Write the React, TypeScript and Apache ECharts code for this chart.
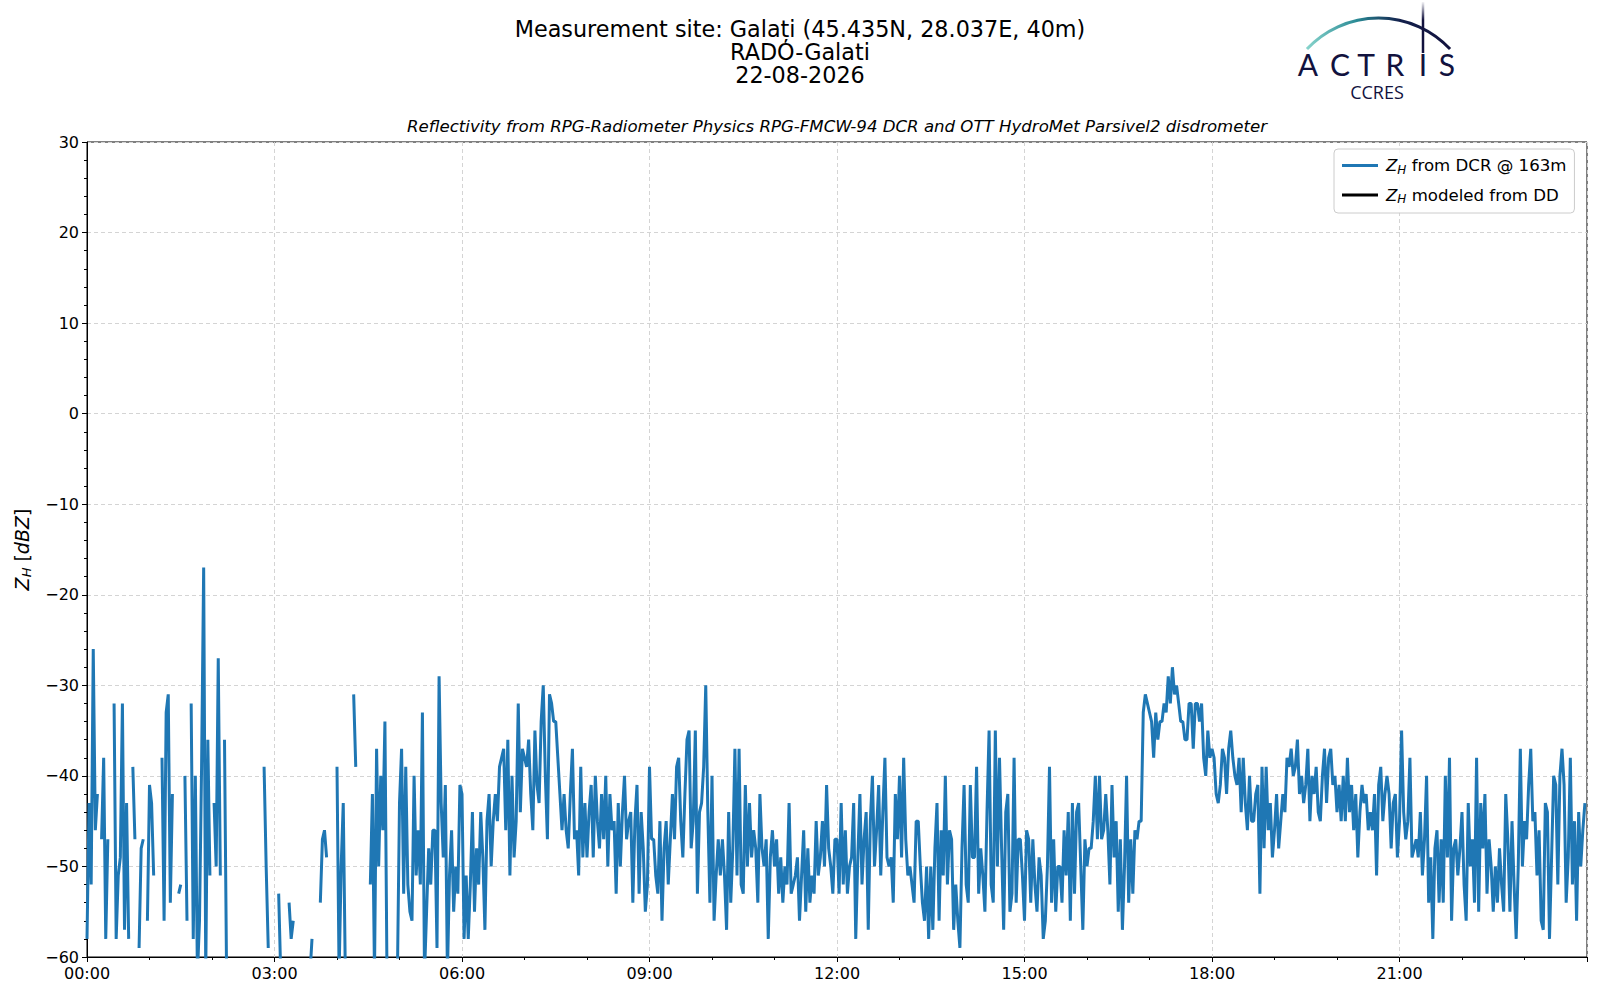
import { useEffect, useRef } from 'react';
import * as echarts from 'echarts';

// Z_H from the cloud radar at 163 m, one value every 2 minutes (dBZ), null = no echo
const STEP_MIN = 2;

const zh00to03 = [
  -58, -43, -52, -26, -46, -42, null, -47, -38, -58, -47, null, null, -32, -58, -51, -49, -32, -57, -43, -58, null, -39, -47, null, -59, -48, -47, null, -56,
  -41, -43, -51, null, null, null, -38, -56, -33, -31, -54, -42, null, null, -53, -52, null, -40, -56, null, -32, -58, -40, -62, -56, -39, -17, -62, -36, -51,
  null, -43, -50, -27, -51, null, -36, -62, null, null, null, null, null, null, null, null, null, null, null, null, null, null, null, null, null, -39, -50, -59, null, null,
];
const zh03to06 = [
  null, null, -53, -62, null, null, null, -54, -58, -56, null, null, null, null, null, null, null, -62, -58, null, null, null, -54, -47, -46, -49, null, null, null, null,
  -39, -62, -50, -43, -62, null, null, null, -31, -39, null, null, null, null, null, null, -52, -42, -62, -37, -50, -40, -46, -34, -62, null, null, null, null, -62,
  -43, -37, -53, -39, -52, -55, -56, -40, -51, -46, -52, -33, -62, -55, -48, -52, -46, -46, -59, -29, -43, -49, -41, -62, -51, -46, -55, -50, -53, -41,
];
const zh06to09 = [
  -42, -58, -51, -58, -52, -44, -55, -48, -52, -44, -49, -57, -45, -42, -50, -45, -42, -45, -39, -38, -37, -46, -36, -51, -40, -49, -45, -32, -44, -37,
  -38, -39, -36, -42, -46, -35, -41, -43, -34, -30, -40, -47, -31, -32, -34, -34, -38, -42, -46, -42, -46, -48, -42, -37, -47, -46, -51, -39, -49, -43,
  -49, -44, -41, -49, -40, -45, -48, -42, -47, -40, -50, -42, -46, -45, -53, -43, -50, -44, -40, -47, -45, -44, -54, -45, -41, -53, -44, -48, -55, -52,
];
const zh09to12 = [
  -39, -47, -47, -51, -53, -45, -56, -48, -45, -52, -47, -42, -47, -39, -38, -45, -49, -42, -36, -35, -48, -45, -35, -53, -44, -43, -39, -30, -44, -54,
  -40, -56, -51, -47, -51, -47, -51, -57, -44, -54, -48, -37, -51, -37, -52, -53, -41, -50, -43, -49, -46, -48, -54, -42, -48, -50, -47, -58, -49, -46,
  -50, -47, -53, -49, -54, -50, -52, -43, -53, -52, -51, -49, -56, -51, -46, -55, -48, -54, -51, -53, -45, -51, -49, -45, -50, -41, -48, -50, -53, -47,
];
const zh12to15 = [
  -47, -53, -43, -52, -46, -53, -50, -49, -43, -58, -49, -42, -52, -47, -44, -57, -45, -40, -50, -46, -41, -51, -44, -38, -49, -50, -49, -54, -42, -47,
  -40, -49, -38, -47, -51, -50, -52, -54, -45, -45, -50, -54, -56, -50, -58, -50, -57, -48, -43, -56, -46, -51, -40, -52, -46, -47, -57, -52, -56, -59,
  -48, -41, -52, -54, -41, -49, -49, -39, -53, -48, -51, -55, -44, -35, -52, -54, -35, -50, -38, -48, -57, -44, -42, -55, -53, -38, -54, -47, -47, -51,
];
const zh15to18 = [
  -56, -46, -47, -54, -47, -52, -55, -49, -51, -58, -56, -50, -39, -54, -47, -55, -50, -50, -54, -46, -51, -44, -56, -43, -53, -44, -43, -50, -57, -47,
  -50, -48, -48, -45, -40, -47, -40, -47, -46, -42, -46, -52, -41, -49, -45, -55, -47, -57, -50, -40, -54, -47, -53, -46, -47, -45, -45, -33, -31, -32,
  -33, -34, -38, -33, -36, -34, -34, -32, -33, -29, -32, -28, -31, -30, -32, -34, -34, -36, -36, -32, -32, -37, -32, -32, -34, -32, -38, -40, -35, -38,
];
const zh18to21 = [
  -37, -38, -42, -43, -41, -37, -38, -42, -37, -35, -38, -40, -41, -38, -44, -38, -43, -46, -40, -45, -45, -42, -41, -53, -39, -48, -39, -46, -43, -49,
  -46, -42, -48, -45, -42, -44, -38, -39, -37, -40, -39, -36, -42, -40, -43, -41, -37, -45, -40, -42, -39, -44, -45, -40, -37, -43, -38, -37, -41, -40,
  -44, -41, -45, -40, -45, -38, -44, -41, -46, -42, -49, -44, -41, -43, -42, -46, -44, -46, -42, -51, -41, -39, -45, -42, -40, -42, -48, -43, -42, -49,
];
const zh21to24 = [
  -45, -35, -44, -47, -45, -38, -49, -48, -47, -49, -44, -51, -47, -40, -54, -49, -58, -48, -46, -54, -47, -54, -40, -49, -38, -56, -48, -47, -51, -48,
  -44, -52, -56, -43, -50, -47, -54, -38, -55, -43, -48, -42, -53, -47, -50, -55, -50, -54, -48, -52, -55, -42, -47, -55, -45, -52, -58, -50, -37, -50,
  -45, -47, -41, -37, -45, -44, -51, -46, -56, -57, -43, -44, -58, -49, -40, -41, -52, -40, -37, -41, -54, -49, -38, -52, -45, -56, -44, -50, -46, -43,
];

// modeled Z_H from the disdrometer: no data that day
const zhDisdrometer: number[] = [];

const zhDcr = [
  ...zh00to03, ...zh03to06, ...zh06to09, ...zh09to12,
  ...zh12to15, ...zh15to18, ...zh18to21, ...zh21to24,
];

const FONT = 'DejaVu Sans, Verdana, sans-serif';
const NAVY = '#12123e';

const pad2 = (n: number) => (n < 10 ? '0' + n : String(n));

export default function App() {
  const chartRef = useRef<HTMLDivElement>(null);

  useEffect(() => {
    if (!chartRef.current) return;
    const chart = echarts.init(chartRef.current, undefined, { renderer: 'svg' });

    const dcrData = zhDcr.map((v, i) => [i * STEP_MIN, v === null ? '-' : v]);

    const legendRich = {
      t: { fontFamily: FONT, fontSize: 16.6, color: '#000' },
      z: { fontFamily: FONT, fontSize: 16.6, fontStyle: 'italic', color: '#000', padding: [0, 0, 0, 3] },
      s: { fontFamily: FONT, fontSize: 12, fontStyle: 'italic', color: '#000', padding: [8, 0, 0, 0] },
    };

    chart.setOption({
      animation: false,
      backgroundColor: '#fff',
      grid: {
        left: 87,
        right: 13,
        top: 142,
        bottom: 43,
        show: true,
        borderColor: '#000',
        borderWidth: 1,
      },
      legend: {
        orient: 'vertical',
        left: 1334,
        top: 149,
        padding: [8, 8, 8, 8],
        itemGap: 11,
        itemWidth: 36,
        itemHeight: 3,
        icon: 'rect',
        backgroundColor: 'rgba(255,255,255,0.85)',
        borderColor: '#cccccc',
        borderWidth: 1,
        borderRadius: 4,
        textStyle: { fontFamily: FONT, fontSize: 16.6, color: '#000', rich: legendRich },
        formatter: (name: string) =>
          name === 'dcr' ? '{z|Z}{s|H}{t| from DCR @ 163m}' : '{z|Z}{s|H}{t| modeled from DD}',
        data: ['dcr', 'dd'],
      },
      xAxis: {
        type: 'value',
        min: 0,
        max: 1440,
        interval: 180,
        axisLine: { onZero: false, lineStyle: { color: '#000', width: 1 } },
        axisTick: { length: 5, lineStyle: { color: '#000' } },
        minorTick: { show: true, splitNumber: 3, length: 3, lineStyle: { color: '#000' } },
        axisLabel: {
          fontFamily: FONT,
          fontSize: 16,
          color: '#000',
          margin: 8,
          formatter: (v: number) => (v >= 1440 ? '' : pad2(Math.floor(v / 60)) + ':' + pad2(v % 60)),
        },
        splitLine: { show: true, lineStyle: { color: '#d4d4d4', type: [4, 3], width: 1 } },
      },
      yAxis: {
        type: 'value',
        min: -60,
        max: 30,
        interval: 10,
        name: '{zi|Z}{sub|H} [{zi|dBZ}]',
        nameLocation: 'middle',
        nameGap: 54,
        nameRotate: 90,
        nameTextStyle: {
          fontFamily: FONT,
          fontSize: 19,
          color: '#000',
          rich: {
            zi: { fontFamily: FONT, fontSize: 19, fontStyle: 'italic', color: '#000' },
            sub: { fontFamily: FONT, fontSize: 13, fontStyle: 'italic', color: '#000', padding: [9, 0, 0, 0] },
          },
        },
        axisLine: { show: true, onZero: false, lineStyle: { color: '#000', width: 1 } },
        axisTick: { show: true, length: 5, lineStyle: { color: '#000' } },
        minorTick: { show: true, splitNumber: 5, length: 3, lineStyle: { color: '#000' } },
        axisLabel: {
          fontFamily: FONT,
          fontSize: 16,
          color: '#000',
          margin: 8,
          formatter: (v: number) => String(v).replace('-', '\u2212'),
        },
        splitLine: { show: true, lineStyle: { color: '#d4d4d4', type: [4, 3], width: 1 } },
      },
      series: [
        {
          name: 'dcr',
          type: 'line',
          data: dcrData,
          showSymbol: false,
          connectNulls: false,
          clip: true,
          color: '#1f77b4',
          lineStyle: { color: '#1f77b4', width: 3 },
          z: 3,
        },
        {
          name: 'dd',
          type: 'line',
          data: zhDisdrometer,
          showSymbol: false,
          color: '#000',
          lineStyle: { color: '#000', width: 3 },
        },
      ],
      graphic: [
        {
          type: 'text',
          x: 800,
          y: 29,
          style: { text: 'Measurement site: Galați (45.435N, 28.037E, 40m)', font: '22.3px ' + FONT, fill: '#000', textAlign: 'center', textVerticalAlign: 'middle' },
        },
        {
          type: 'text',
          x: 800,
          y: 52,
          style: { text: 'RADO-Galati', font: '22.3px ' + FONT, fill: '#000', textAlign: 'center', textVerticalAlign: 'middle' },
        },
        {
          type: 'text',
          x: 800,
          y: 75,
          style: { text: '22-08-2026', font: '22.3px ' + FONT, fill: '#000', textAlign: 'center', textVerticalAlign: 'middle' },
        },
        {
          type: 'text',
          x: 837,
          y: 126,
          style: {
            text: 'Reflectivity from RPG-Radiometer Physics RPG-FMCW-94 DCR and OTT HydroMet Parsivel2 disdrometer',
            font: 'italic 16.6px ' + FONT,
            fill: '#000',
            textAlign: 'center',
            textVerticalAlign: 'middle',
          },
        },
        // ACTRIS / CCRES logo
        {
          type: 'arc',
          shape: { cx: 1378.5, cy: 116, r: 98, startAngle: 3.894, endAngle: 5.531, clockwise: true },
          style: {
            fill: null,
            lineWidth: 3,
            stroke: {
              type: 'linear', x: 0, y: 0, x2: 1, y2: 0,
              colorStops: [
                { offset: 0, color: '#86d3cb' },
                { offset: 0.35, color: '#2a8a95' },
                { offset: 0.65, color: '#13204c' },
                { offset: 1, color: NAVY },
              ],
            },
          },
        },
        {
          type: 'line',
          shape: { x1: 1423, y1: 2, x2: 1423, y2: 53 },
          style: {
            lineWidth: 2.5,
            stroke: {
              type: 'linear', x: 1423, y: 2, x2: 1423, y2: 53, global: true,
              colorStops: [
                { offset: 0, color: 'rgba(18,18,62,0.05)' },
                { offset: 0.35, color: NAVY },
                { offset: 1, color: NAVY },
              ],
            },
          },
        },
        ...[
          ['A', 1308], ['C', 1340], ['T', 1366], ['R', 1395], ['I', 1423], ['S', 1447],
        ].map(([ch, x]) => ({
          type: 'text',
          x: x as number,
          y: 79,
          style: { text: ch as string, font: '30px Lato, "Open Sans", sans-serif', fill: NAVY, textAlign: 'center', textVerticalAlign: 'bottom' },
        })),
        {
          type: 'text',
          x: 1377,
          y: 92,
          style: { text: 'CCRES', font: '18px "Open Sans", Lato, sans-serif', fill: NAVY, textAlign: 'center', textVerticalAlign: 'middle' },
        },
      ],
    });

    return () => {
      chart.dispose();
    };
  }, []);

  return (
    <div
      ref={chartRef}
      style={{ position: 'fixed', left: 0, top: 0, width: 1600, height: 1000, background: '#fff' }}
    />
  );
}
